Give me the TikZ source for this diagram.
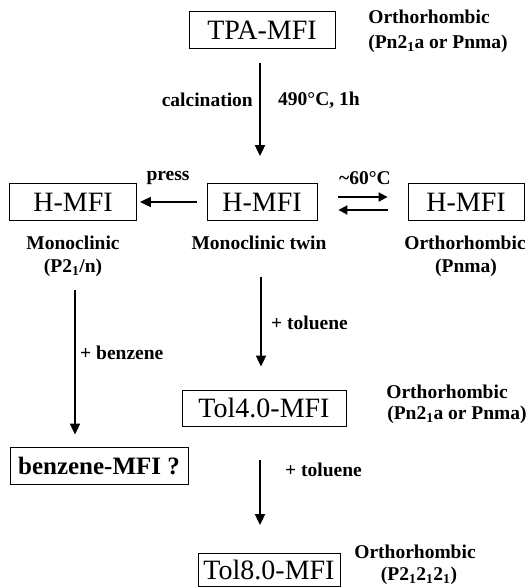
\documentclass[tikz,border=0pt]{standalone}
\usepackage{fontspec}
\setmainfont{Liberation Serif}
\usetikzlibrary{arrows.meta}
\tikzset{
    box/.style = {draw, rectangle, line width=0.8pt,
        minimum height=37pt, inner sep=0pt,
        font=\fontsize{28}{30}\selectfont},
    lbl/.style = {inner sep=0pt, align=center,
        font=\bfseries\fontsize{19.5}{21}\selectfont},
    arrow/.style = {draw, line width=1.8pt, -{Triangle[width=10pt,length=11pt]}},
    eqarrow/.style = {draw, line width=1.8pt, -{Triangle[width=9pt,length=9pt]}}
}

\begin{document}
\begin{tikzpicture}[x=1pt,y=-1pt]
    \useasboundingbox (0,0) rectangle (529,587);
    % start material
    \node [box, minimum width=146pt] (tpa) at (262,30) {TPA-MFI};
    \node [lbl] (tpaA) at (429,17) {Orthorhombic};
    \node [lbl] (tpaB) at (438,44) {(Pn2\textsubscript{1}a or Pnma)};
    % calcined forms
    \node [box, minimum width=127pt] (hleft) at (73,202) {H-MFI};
    \node [box, minimum width=110pt] (hmid) at (262,202) {H-MFI};
    \node [box, minimum width=116pt] (hright) at (466,202) {H-MFI};
    \node [lbl] (hleftA) at (73,243) {Monoclinic};
    \node [lbl] (hleftB) at (73,268) {(P2\textsubscript{1}/n)};
    \node [lbl] (hmidA) at (259,243) {Monoclinic twin};
    \node [lbl] (hrightA) at (465,243) {Orthorhombic};
    \node [lbl] (hrightB) at (466,268) {(Pnma)};
    % loaded forms
    \node [box, minimum width=164pt, minimum height=36pt] (tol4) at (264,408) {Tol4.0-MFI};
    \node [lbl] (tol4A) at (447,392) {Orthorhombic};
    \node [lbl] (tol4B) at (457,415) {(Pn2\textsubscript{1}a or Pnma)};
    \node [box, minimum width=178pt, font=\bfseries\fontsize{25}{27}\selectfont] (benz) at (99,465.5) {benzene-MFI ?};
    \node [box, minimum width=142pt, minimum height=33pt] (tol8) at (269,570) {Tol8.0-MFI};
    \node [lbl] (tol8A) at (415,552) {Orthorhombic};
    \node [lbl] (tol8B) at (419,576) {(P2\textsubscript{1}2\textsubscript{1}2\textsubscript{1})};

    % calcination
    \draw [arrow] ([xshift=-2pt,yshift=-14pt]tpa.south) -- ([xshift=-2pt,yshift=27pt]hmid.north);
    \node [lbl, anchor=east] (calc) at (253,100) {calcination};
    \node [lbl, anchor=west] (temp) at (278,100) {490\textdegree C, 1h};
    % press
    \draw [arrow] ([xshift=-10pt]hmid.west) -- ([xshift=3pt]hleft.east);
    \node [lbl] (press) at (168,178) {press};
    % reversible transition
    \draw [eqarrow] ([xshift=21pt,yshift=5pt]hmid.east) -- ([xshift=-20pt,yshift=5pt]hright.west);
    \draw [eqarrow] ([xshift=-20pt,yshift=-8pt]hright.west) -- ([xshift=21pt,yshift=-8pt]hmid.east);
    \node [lbl] (heat) at (365,178) {\textasciitilde60\textdegree C};
    % adsorption
    \draw [arrow] (75,290) -- ([yshift=12pt]benz.north -| 75,0);
    \node [lbl, anchor=west] (addbenz) at (80,353) {+ benzene};
    \draw [arrow] (261,277) -- ([yshift=23pt]tol4.north -| 261,0);
    \node [lbl, anchor=west] (addtol1) at (271,323) {+ toluene};
    \draw [arrow] ([xshift=-4pt,yshift=-34pt]tol4.south) -- ([yshift=28pt]tol8.north -| 260,0);
    \node [lbl, anchor=west] (addtol2) at (285,470) {+ toluene};
\end{tikzpicture}
\end{document}
